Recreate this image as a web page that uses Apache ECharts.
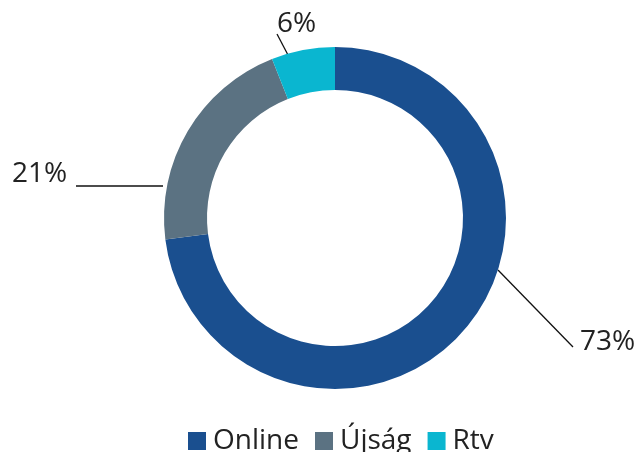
<!DOCTYPE html>
<html>
<head>
<meta charset="utf-8">
<script src="https://cdn.jsdelivr.net/npm/echarts@6/dist/echarts.min.js"></script>
<style>
  html, body { margin: 0; padding: 0; background: #fff; }
  #chart { width: 639px; height: 452px; }
</style>
</head>
<body>
<div id="chart"></div>
<script>
// 数据
const categories = ['Online', 'Újság', 'Rtv']
const values = [73, 21, 6]
const colors = ['#1a4f8f', '#5b7282', '#0ab6d0']

// 标签位置（手动摆放，和原图一致）
const labelSpots = [
  { x: 580, y: 342, line: [[498, 270], [573, 347]] },
  { x: 12, y: 174, line: [[163, 186], [76, 186]] },
  { x: 277, y: 24, line: [[288, 55], [277, 34]] }
]

let myChart = echarts.init(document.getElementById('chart'))
myChart.setOption({
  color: colors,
  textStyle: { fontFamily: 'Open Sans' },
  legend: {
    data: categories,
    top: 422,
    left: 183,
    itemWidth: 18,
    itemHeight: 18,
    itemGap: 16,
    icon: 'rect',
    textStyle: { fontSize: 28, color: '#222', fontFamily: 'Open Sans', padding: [0, 0, 0, 2] }
  },
  series: [
    {
      type: 'pie',
      radius: [128, 171],
      center: [335, 218],
      startAngle: 90,
      clockwise: true,
      avoidLabelOverlap: false,
      silent: true,
      data: categories.map((name, i) => ({ name: name, value: values[i] })),
      label: {
        show: true,
        formatter: '{c}%',
        fontSize: 28,
        color: '#222',
        fontFamily: 'Open Sans'
      },
      labelLine: {
        show: true,
        lineStyle: { color: '#111', width: 1.3 }
      },
      labelLayout: function (params) {
        const s = labelSpots[params.dataIndex]
        return {
          x: s.x,
          y: s.y,
          align: 'left',
          verticalAlign: 'middle',
          labelLinePoints: s.line
        }
      }
    }
  ]
})
</script>
</body>
</html>
